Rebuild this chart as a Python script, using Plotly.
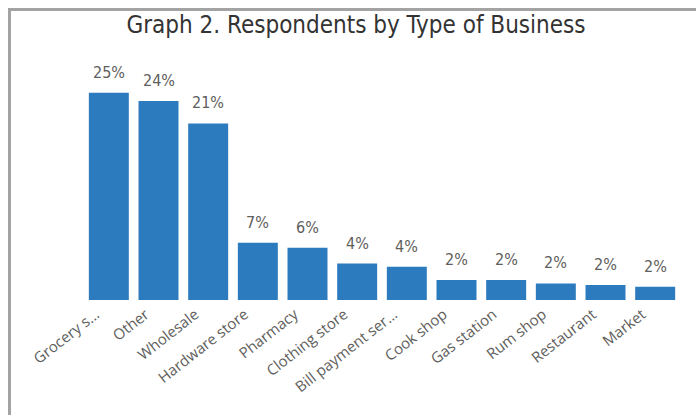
import plotly.graph_objects as go

# Share of respondents by type of business
categories = [
    "Grocery s...", "Other", "Wholesale", "Hardware store", "Pharmacy",
    "Clothing store", "Bill payment ser...", "Cook shop", "Gas station",
    "Rum shop", "Restaurant", "Market",
]
shares = [0.250, 0.240, 0.213, 0.069, 0.063, 0.044, 0.040, 0.024, 0.024, 0.020, 0.018, 0.016]

W, H = 696, 415
L, R, T, B = 84, 16, 60, 115
plot_w = W - L - R
plot_h = H - T - B


def px_x(p):
    return (p - L) / plot_w


def px_y(p):
    return (H - B - p) / plot_h


bar_color = "#2B7BBE"
label_color = "#605E5C"

fig = go.Figure(
    go.Bar(
        x=categories,
        y=shares,
        marker=dict(color=bar_color, line=dict(width=0)),
        cliponaxis=False,
        hoverinfo="skip",
    )
)

# percentage labels sitting above each bar
annotations = [
    dict(
        x=c,
        y=v,
        xref="x",
        yref="y",
        text=f"{v:.0%}",
        showarrow=False,
        yanchor="bottom",
        yshift=9,
        font=dict(family="DejaVu Sans Condensed", size=16, color=label_color),
    )
    for c, v in zip(categories, shares)
]

fig.update_layout(
    width=W,
    height=H,
    margin=dict(l=L, r=R, t=T, b=B, autoexpand=False),
    paper_bgcolor="white",
    plot_bgcolor="white",
    bargap=0.195,
    showlegend=False,
    annotations=annotations,
    title=dict(
        text="Graph 2. Respondents by Type of Business",
        font=dict(family="DejaVu Sans Condensed", size=24, color="#333333"),
        x=356 / W,
        xref="container",
        xanchor="center",
        y=1 - 25 / H,
        yref="container",
        yanchor="middle",
    ),
    xaxis=dict(
        tickangle=-38,
        tickfont=dict(family="Open Sans", size=15, color=label_color),
        ticklabelstandoff=2,
        ticklabelshift=-13,
        showline=False,
        showgrid=False,
        ticks="",
    ),
    yaxis=dict(
        range=[0, 0.25 * plot_h / 207.3],
        visible=False,
        showgrid=False,
        zeroline=False,
    ),
    shapes=[
        # card frame along the left and top edges
        dict(
            type="path",
            xref="paper",
            yref="paper",
            path=f"M {px_x(9.5)},{px_y(H + 5)} L {px_x(9.5)},{px_y(9.5)} L {px_x(W + 5)},{px_y(9.5)}",
            line=dict(color="#A3A3A3", width=3),
        )
    ],
)

fig.write_html("out.html")
